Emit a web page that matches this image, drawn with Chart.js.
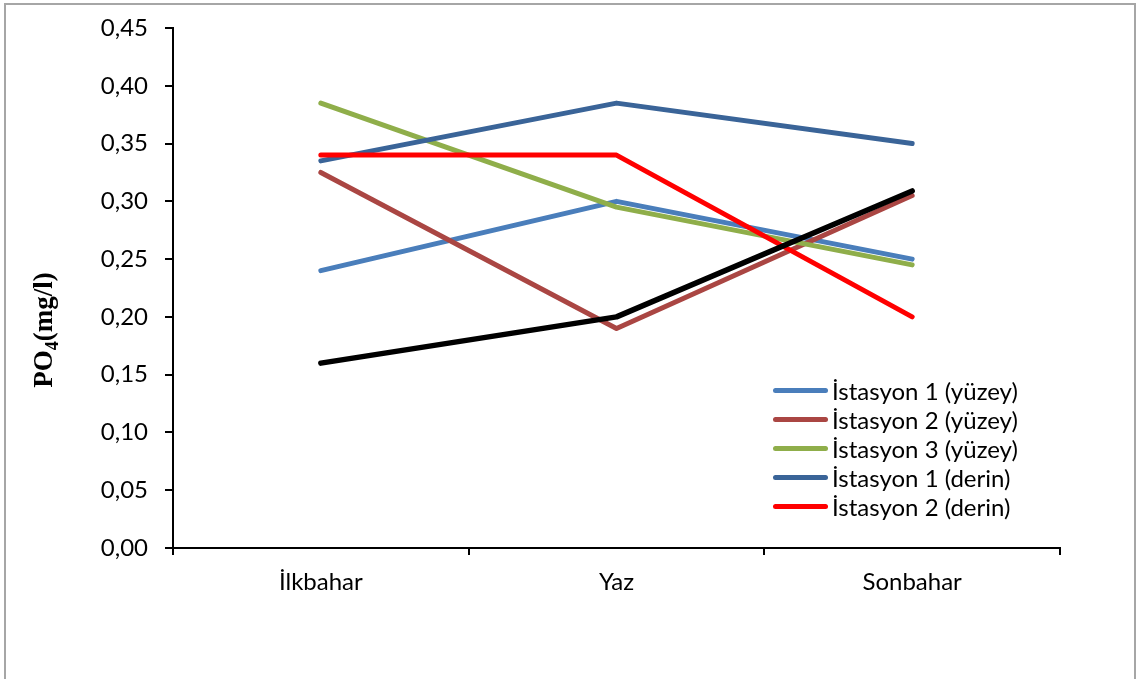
<!DOCTYPE html>
<html>
<head>
<meta charset="utf-8">
<script src="https://cdn.jsdelivr.net/npm/chart.js@4/dist/chart.umd.min.js"></script>
<style>
  html, body { margin: 0; padding: 0; background: #fff; }
  #wrap { position: relative; width: 1140px; height: 679px; overflow: hidden; }
  #frame { position: absolute; left: 4px; top: 3px; width: 1132px; height: 700px;
           border: 2px solid #a6a6a6; box-sizing: border-box; pointer-events: none; }
  #legend { position: absolute; left: 773px; top: 376px; font-family: Lato, "Open Sans", sans-serif;
            font-size: 24px; color: #000; }
  #legend .row { height: 29px; display: flex; align-items: center; white-space: nowrap; }
  #legend .sw { width: 55px; height: 5px; border-radius: 3px; margin-right: 4px; }
</style>
</head>
<body>
<div id="wrap">
  <canvas id="c" width="1140" height="679"></canvas>
  <div id="frame"></div>
  <div id="legend"></div>
</div>
<script>
// Seasons on the x axis
const seasons = ['İlkbahar', 'Yaz', 'Sonbahar'];

// PO4 concentrations (mg/l) per station and depth
const ist1Yuzey = [0.24, 0.30, 0.25];
const ist2Yuzey = [0.325, 0.19, 0.305];
const ist3Yuzey = [0.385, 0.295, 0.245];
const ist1Derin = [0.335, 0.385, 0.35];
const ist2Derin = [0.34, 0.34, 0.20];
const ist3Derin = [0.16, 0.20, 0.309];

const seriesNames = ['İstasyon 1 (yüzey)', 'İstasyon 2 (yüzey)', 'İstasyon 3 (yüzey)',
                     'İstasyon 1 (derin)', 'İstasyon 2 (derin)', ''];
const seriesValues = [ist1Yuzey, ist2Yuzey, ist3Yuzey, ist1Derin, ist2Derin, ist3Derin];
const seriesColors = ['#4A7EBB', '#AA4643', '#8FAE4A', '#3A6498', '#FF0000', '#000000'];
const seriesWidths = [5, 5, 5, 5, 5, 5.5];
const inLegend = [true, true, true, true, true, false];

// Y axis range and step
const yMin = 0, yMax = 0.45, yStep = 0.05;

const tickFont = { family: 'Lato, "Open Sans", sans-serif', size: 24 };

const datasets = seriesValues.map((vals, i) => ({
  label: seriesNames[i],
  data: vals,
  borderColor: seriesColors[i],
  backgroundColor: seriesColors[i],
  borderWidth: seriesWidths[i],
  borderCapStyle: 'round',
  borderJoinStyle: 'round',
  pointRadius: 0,
  tension: 0,
  fill: false,
  // later series are painted over earlier ones
  order: seriesValues.length - i
}));

// Rotated y-axis title with subscript
const yTitlePlugin = {
  id: 'yTitle',
  afterDraw(chart) {
    const ctx = chart.ctx;
    ctx.save();
    ctx.translate(52, 330);
    ctx.rotate(-Math.PI / 2);
    ctx.fillStyle = '#000';
    ctx.textBaseline = 'alphabetic';
    ctx.textAlign = 'left';
    const big = 'bold 27px "Liberation Serif", "Times New Roman", serif';
    const small = 'bold 18px "Liberation Serif", "Times New Roman", serif';
    ctx.font = big;
    const w1 = ctx.measureText('PO').width;
    ctx.font = small;
    const w2 = ctx.measureText('4').width;
    ctx.font = big;
    const w3 = ctx.measureText('(mg/l)').width;
    let x = -(w1 + w2 + w3) / 2;
    ctx.fillText('PO', x, 0);
    x += w1;
    ctx.font = small;
    ctx.fillText('4', x, 6);
    x += w2;
    ctx.font = big;
    ctx.fillText('(mg/l)', x, 0);
    ctx.restore();
  }
};

new Chart(document.getElementById('c'), {
  type: 'line',
  data: { labels: seasons, datasets },
  options: {
    responsive: false,
    animation: false,
    devicePixelRatio: 1,
    layout: { padding: { left: 0, top: 28, right: 80, bottom: 0 } },
    plugins: { legend: { display: false }, tooltip: { enabled: false } },
    scales: {
      x: {
        type: 'category',
        offset: true,
        grid: { display: true, drawOnChartArea: false, offset: true, color: '#000', lineWidth: 2, tickLength: 7 },
        border: { display: true, color: '#000', width: 2 },
        ticks: { color: '#000', font: tickFont, padding: 13, maxRotation: 0 },
        afterFit(s) { s.height = 131; s.paddingLeft = 0; s.paddingRight = 0; }
      },
      y: {
        min: yMin, max: yMax,
        grid: { display: true, drawOnChartArea: false, color: '#000', lineWidth: 2, tickLength: 8 },
        border: { display: true, color: '#000', width: 2 },
        ticks: {
          stepSize: yStep, color: '#000', font: tickFont, padding: 17,
          callback: v => v.toFixed(2).replace('.', ',')
        },
        afterFit(s) { s.width = 173; s.paddingTop = 0; s.paddingBottom = 0; }
      }
    }
  },
  plugins: [yTitlePlugin]
});

// Legend rows built from the series list
const legendEl = document.getElementById('legend');
seriesNames.forEach((name, i) => {
  if (!inLegend[i]) return;
  const row = document.createElement('div');
  row.className = 'row';
  const sw = document.createElement('span');
  sw.className = 'sw';
  sw.style.background = seriesColors[i];
  const tx = document.createElement('span');
  tx.textContent = name;
  row.appendChild(sw);
  row.appendChild(tx);
  legendEl.appendChild(row);
});
</script>
</body>
</html>
